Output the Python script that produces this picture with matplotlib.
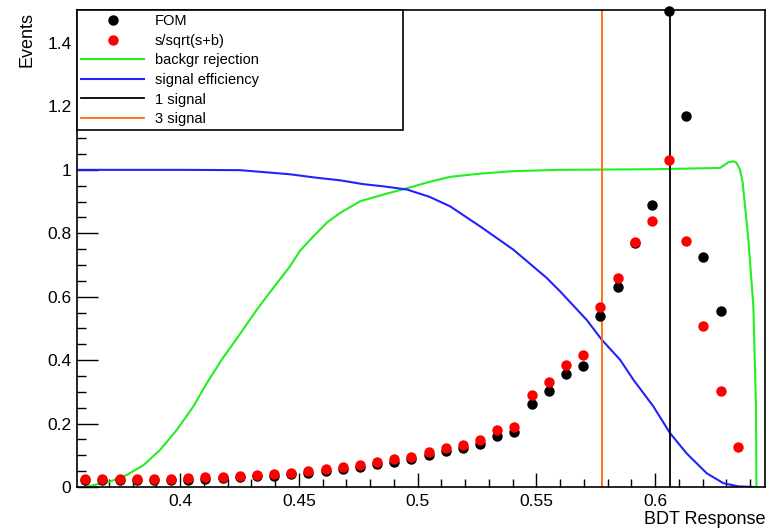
import numpy as np
import matplotlib
matplotlib.use("Agg")
import matplotlib.pyplot as plt
from matplotlib.ticker import MultipleLocator, FormatStrFormatter

plt.rcParams['font.family'] = ['Liberation Sans', 'DejaVu Sans']

# BDT cut values of the FOM points
cut = [0.3600, 0.3672, 0.3745, 0.3817, 0.3889, 0.3962, 0.4034, 0.4106, 0.4179,
       0.4251, 0.4323, 0.4396, 0.4468, 0.4540, 0.4613, 0.4685, 0.4757, 0.4830,
       0.4902, 0.4974, 0.5047, 0.5119, 0.5191, 0.5264, 0.5336, 0.5408, 0.5481,
       0.5553, 0.5625, 0.5698, 0.5770, 0.5842, 0.5915, 0.5987, 0.6059, 0.6132,
       0.6204, 0.6276, 0.6349]
fom = [0.021, 0.021, 0.021, 0.021, 0.021, 0.021, 0.023, 0.026, 0.029, 0.032,
       0.034, 0.036, 0.040, 0.045, 0.051, 0.057, 0.063, 0.071, 0.079, 0.088,
       0.100, 0.113, 0.122, 0.135, 0.162, 0.173, 0.262, 0.303, 0.356, 0.383,
       0.538, 0.630, 0.770, 0.890, 1.500, 1.169, 0.726, 0.554, np.nan]
ssb = [0.025, 0.025, 0.025, 0.025, 0.025, 0.025, 0.027, 0.030, 0.033, 0.036,
       0.038, 0.040, 0.044, 0.050, 0.057, 0.063, 0.070, 0.079, 0.087, 0.096,
       0.110, 0.124, 0.133, 0.148, 0.180, 0.190, 0.290, 0.330, 0.385, 0.415,
       0.569, 0.660, 0.773, 0.840, 1.030, 0.775, 0.509, 0.303, 0.127]

# background rejection curve
bkg_x = [0.3600, 0.3705, 0.3776, 0.3846, 0.3916, 0.3986, 0.4056, 0.4112, 0.4175,
         0.4250, 0.4323, 0.4400, 0.4463, 0.4505, 0.4561, 0.4620, 0.4674, 0.4758,
         0.4856, 0.4955, 0.5050, 0.5137, 0.5263, 0.5404, 0.5600, 0.6000, 0.6274,
         0.6309, 0.6330, 0.6343, 0.6358, 0.6369, 0.6379, 0.6393, 0.6414, 0.6425,
         0.6427]
bkg_y = [0.000, 0.017, 0.038, 0.069, 0.117, 0.180, 0.254, 0.327, 0.401,
         0.480, 0.559, 0.635, 0.696, 0.745, 0.790, 0.835, 0.864, 0.901,
         0.922, 0.942, 0.962, 0.978, 0.988, 0.996, 1.000, 1.002, 1.006,
         1.024, 1.027, 1.022, 1.000, 0.959, 0.885, 0.780, 0.569, 0.254,
         0.000]

# signal efficiency curve
sig_x = [0.3566, 0.3800, 0.4000, 0.4253, 0.4463, 0.4576, 0.4674, 0.4770, 0.4856,
         0.4955, 0.5050, 0.5137, 0.5263, 0.5404, 0.5544, 0.5600, 0.5712, 0.5776,
         0.5853, 0.5909, 0.5993, 0.6063, 0.6133, 0.6218, 0.6288, 0.6350, 0.6413]
sig_y = [1.000, 1.000, 1.000, 0.999, 0.986, 0.975, 0.967, 0.955, 0.948,
         0.938, 0.915, 0.885, 0.822, 0.748, 0.659, 0.617, 0.527, 0.464,
         0.401, 0.338, 0.254, 0.170, 0.106, 0.043, 0.012, 0.002, 0.000]

cut_1sig = 0.6063
cut_3sig = 0.5776

fig = plt.figure(figsize=(7.73, 5.28), dpi=100)
ax = fig.add_axes([77/773, 41/528, 688/773, 477/528])

ax.plot(bkg_x, bkg_y, color='#22ee22', lw=1.5, label='backgr rejection', zorder=2)
ax.plot(sig_x, sig_y, color='#2222ff', lw=1.5, label='signal efficiency', zorder=2)
ax.axvline(cut_1sig, color='black', lw=1.3, label='1 signal', zorder=2)
ax.axvline(cut_3sig, color='#ff6a00', lw=1.3, label='3 signal', zorder=2)
ax.plot(cut, fom, 'o', color='black', ms=7.5, mec='none', label='FOM', zorder=3, clip_on=False)
ax.plot(cut, ssb, 'o', color='#ff0000', ms=7.5, mec='none', label='s/sqrt(s+b)', zorder=4, clip_on=False)

ax.set_xlim(0.3566, 0.6463)
ax.set_ylim(0, 1.504)

ax.xaxis.set_major_locator(MultipleLocator(0.05))
ax.xaxis.set_minor_locator(MultipleLocator(0.01))
ax.yaxis.set_major_locator(MultipleLocator(0.2))
ax.yaxis.set_minor_locator(MultipleLocator(0.05))
ax.xaxis.set_major_formatter(FormatStrFormatter('%g'))
ax.yaxis.set_major_formatter(FormatStrFormatter('%g'))
ax.tick_params(axis='both', which='both', direction='in', width=1.0, labelsize=12.5)
ax.tick_params(axis='x', which='major', length=10, pad=5)
ax.tick_params(axis='x', which='minor', length=5.8)
ax.tick_params(axis='y', which='major', length=14.8, pad=4)
ax.tick_params(axis='y', which='minor', length=6.5)
for s in ax.spines.values():
    s.set_linewidth(1.2)

ax.text(-0.073, 0.995, 'Events', rotation=90, ha='center', va='top',
        fontsize=13, transform=ax.transAxes)
ax.text(1.0, -0.068, 'BDT Response', ha='right', va='center',
        fontsize=13, transform=ax.transAxes)

h, l = ax.get_legend_handles_labels()
order = [4, 5, 0, 1, 2, 3]
leg = ax.legend([h[i] for i in order], [l[i] for i in order],
                loc='upper left', bbox_to_anchor=(0, 0, 0.474, 1), mode='expand',
                borderaxespad=0, fontsize=10.5, handlelength=4.3, handletextpad=0.75,
                labelspacing=0.38, borderpad=0.3, fancybox=False,
                framealpha=1, edgecolor='black', markerscale=1.0)
leg.get_frame().set_linewidth(1.2)
leg.set_zorder(5)

fig.savefig('out.png', dpi=100)
